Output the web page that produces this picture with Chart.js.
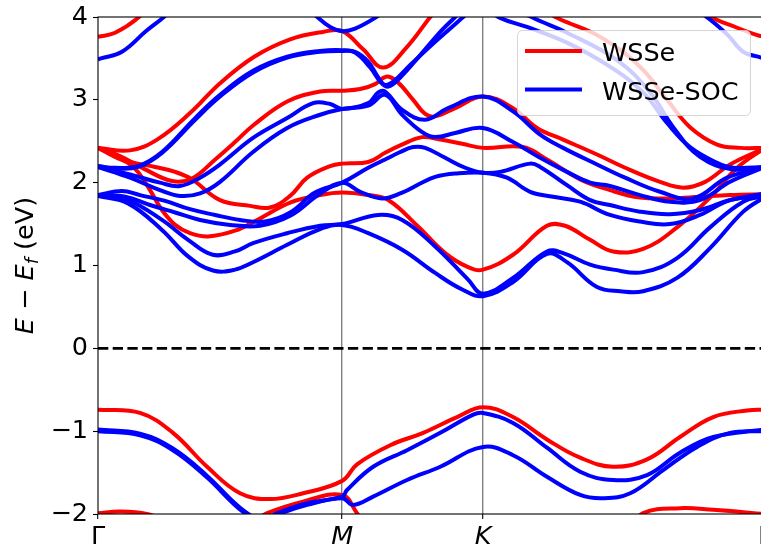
<!DOCTYPE html>
<html>
<head>
<meta charset="utf-8">
<script src="https://cdn.jsdelivr.net/npm/chart.js@4/dist/chart.umd.min.js"></script>
<style>
html, body { margin: 0; padding: 0; background: #fff; overflow: hidden; }
#wrap { width: 766px; height: 546px; position: relative; }
</style>
</head>
<body>
<div id="wrap"><canvas id="bands"></canvas></div>
<script>
// k-path: G-M = 1, M-K = 1/sqrt(3), K-G = 2/sqrt(3)
const kTicks = [0, 1, 1.5774, 2.7321];
const kLabels = ['\u0393', 'M', 'K', '\u0393'];
const energyTicks = [-2, -1, 0, 1, 2, 3, 4];
const seriesNames = ['WSSe', 'WSSe-SOC'];

// WSSe (no SOC) bands, [k, E - Ef in eV]
const wsseV1 = [[0,-0.74],[0.172,-0.78],[0.307,-1.02],[0.447,-1.43],[0.582,-1.75],[0.705,-1.82],[0.84,-1.75],[1.0,-1.6],[1.061,-1.4],[1.197,-1.17],[1.332,-1.02],[1.471,-0.83],[1.577,-0.71],[1.7,-0.83],[1.839,-1.1],[1.975,-1.32],[2.11,-1.43],[2.249,-1.34],[2.384,-1.07],[2.52,-0.83],[2.659,-0.75],[2.732,-0.74]];
const wsseV2 = [[0,-1.99],[0.09,-1.97],[0.2,-2.0],[0.32,-2.12],[0.5,-2.25],[0.62,-2.12],[0.693,-1.99],[0.84,-1.85],[1.0,-1.77],[1.061,-1.99],[1.123,-2.25],[1.35,-2.5],[1.9,-2.5],[2.139,-2.25],[2.233,-1.99],[2.384,-1.93],[2.52,-1.95],[2.732,-2.0]];
const wsseTopG = [[0,3.76],[0.07,3.81],[0.168,4.0],[0.3,4.4],[2.35,4.4],[2.495,4.03],[2.618,3.87],[2.7,3.78],[2.732,3.76]];
const wsseTop = [[0,2.42],[0.131,2.39],[0.242,2.52],[0.377,2.84],[0.5,3.2],[0.64,3.52],[0.787,3.73],[0.922,3.82],[1.0,3.83],[1.086,3.61],[1.168,3.39],[1.266,3.64],[1.361,4.0],[1.422,4.21]];
const wsseA = [[0,2.42],[0.07,2.31],[0.123,2.24],[0.164,2.13],[0.213,1.91],[0.262,1.67],[0.316,1.49],[0.377,1.39],[0.451,1.35],[0.561,1.42],[0.652,1.55],[0.787,1.76],[0.91,1.85],[1.0,1.88],[1.107,1.85],[1.189,1.79],[1.311,1.47],[1.422,1.15],[1.516,0.98],[1.577,0.95],[1.7,1.13],[1.839,1.48],[1.913,1.48],[2.016,1.31],[2.11,1.17],[2.233,1.2],[2.372,1.46],[2.507,1.82],[2.618,2.18],[2.732,2.42]];
const wsseB = [[0,2.42],[0.06,2.36],[0.123,2.26],[0.234,2.19],[0.316,2.13],[0.385,2.04],[0.5,1.79],[0.623,1.72],[0.705,1.7],[0.787,1.84],[0.857,2.06],[0.951,2.2],[1.0,2.23],[1.107,2.25],[1.176,2.36],[1.238,2.45],[1.328,2.55],[1.402,2.52],[1.492,2.47],[1.577,2.42],[1.741,2.43],[1.839,2.28],[1.975,2.04],[2.097,1.91],[2.22,1.82],[2.343,1.81],[2.466,1.83],[2.589,1.85],[2.732,1.86]];
const wsseC = [[0,2.42],[0.09,2.32],[0.193,2.16],[0.303,2.02],[0.385,2.05],[0.48,2.28],[0.561,2.49],[0.635,2.69],[0.775,2.98],[0.91,3.1],[1.0,3.11],[1.074,3.13],[1.135,3.19],[1.18,3.28],[1.225,3.22],[1.291,3.0],[1.34,2.83],[1.381,2.8],[1.463,2.9],[1.577,3.04],[1.7,2.9],[1.798,2.66],[1.905,2.52],[2.044,2.34],[2.159,2.18],[2.302,2.01],[2.397,1.94],[2.487,2.01],[2.589,2.22],[2.732,2.42]];
const wsseUp = [[1.75,4.3],[1.831,4.09],[1.88,3.99],[2.057,3.76],[2.22,3.4],[2.331,3.0],[2.425,2.67],[2.536,2.46],[2.63,2.42],[2.732,2.42]];

// WSSe with SOC
const socV1a = [[0,-0.98],[0.172,-1.03],[0.307,-1.21],[0.447,-1.54],[0.553,-1.85],[0.611,-1.99],[0.672,-2.08],[0.734,-1.99],[0.857,-1.87],[1.0,-1.79],[1.02,-1.71],[1.127,-1.43],[1.266,-1.23],[1.402,-1.02],[1.537,-0.8],[1.577,-0.78],[1.7,-0.9],[1.839,-1.2],[1.975,-1.49],[2.11,-1.59],[2.249,-1.53],[2.384,-1.26],[2.52,-1.07],[2.732,-0.98]];
const socV1b = [[0,-1.0],[0.172,-1.05],[0.307,-1.23],[0.447,-1.56],[0.553,-1.87],[0.611,-2.01],[0.672,-2.1],[0.734,-2.01],[0.857,-1.89],[1.0,-1.81],[1.045,-1.89],[1.127,-1.79],[1.266,-1.59],[1.402,-1.43],[1.577,-1.19],[1.7,-1.29],[1.839,-1.55],[1.975,-1.77],[2.069,-1.81],[2.18,-1.75],[2.315,-1.47],[2.454,-1.19],[2.589,-1.02],[2.732,-1.0]];
const socTopG = [[0,3.49],[0.012,3.5],[0.098,3.58],[0.197,3.83],[0.27,4.0],[0.4,4.35],[2.3,4.35],[2.479,4.03],[2.577,3.79],[2.643,3.58],[2.716,3.51],[2.732,3.49]];
const socTopM = [[0.8,4.4],[0.869,4.09],[0.898,4.0],[0.951,3.88],[1.0,3.83],[1.053,3.86],[1.135,3.99],[1.176,4.09],[1.25,4.4]];
const socT1 = [[0,2.19],[0.07,2.17],[0.164,2.19],[0.262,2.36],[0.398,2.76],[0.5,3.04],[0.635,3.33],[0.775,3.51],[0.91,3.58],[1.0,3.59],[1.053,3.58],[1.107,3.46],[1.148,3.27],[1.176,3.18],[1.217,3.24],[1.279,3.42],[1.381,3.7],[1.492,3.99],[1.525,4.09],[1.56,4.3]];
const socT2 = [[0,2.2],[0.07,2.18],[0.164,2.2],[0.262,2.37],[0.398,2.78],[0.5,3.06],[0.635,3.35],[0.775,3.52],[0.91,3.59],[1.0,3.6],[1.053,3.57],[1.115,3.39],[1.156,3.22],[1.189,3.16],[1.238,3.27],[1.32,3.54],[1.402,3.82],[1.463,4.0],[1.492,4.09],[1.52,4.3]];
const socM1 = [[0,2.19],[0.131,2.1],[0.254,2.0],[0.336,1.96],[0.418,2.06],[0.5,2.22],[0.635,2.54],[0.775,2.78],[0.881,2.96],[0.951,2.95],[1.0,2.89],[1.107,2.96],[1.148,3.09],[1.176,3.1],[1.246,2.88],[1.34,2.76],[1.434,2.9],[1.577,3.04],[1.7,2.86],[1.811,2.58],[1.905,2.42],[2.044,2.22],[2.159,2.06],[2.302,1.89],[2.438,1.81],[2.577,2.06],[2.732,2.19]];
const socM2 = [[0,2.19],[0.131,2.06],[0.254,1.91],[0.336,1.84],[0.418,1.87],[0.5,2.01],[0.635,2.37],[0.775,2.66],[0.91,2.82],[1.0,2.89],[1.107,2.93],[1.176,3.06],[1.246,2.82],[1.328,2.61],[1.381,2.55],[1.463,2.6],[1.577,2.66],[1.7,2.49],[1.811,2.3],[1.921,2.13],[2.016,2.0],[2.097,1.96],[2.22,1.85],[2.343,1.77],[2.466,1.79],[2.589,2.01],[2.732,2.19]];
const socG1 = [[0,1.85],[0.098,1.9],[0.172,1.85],[0.275,1.78],[0.377,1.68],[0.48,1.61],[0.582,1.55],[0.684,1.53],[0.787,1.64],[0.889,1.88],[1.0,2.0],[1.107,2.18],[1.176,2.28],[1.238,2.37],[1.291,2.43],[1.34,2.42],[1.422,2.3],[1.504,2.18],[1.577,2.12],[1.647,2.13],[1.77,2.23],[1.811,2.19],[1.921,1.97],[2.016,1.79],[2.097,1.73],[2.22,1.65],[2.343,1.62],[2.466,1.67],[2.589,1.79],[2.732,1.87]];
const socG2 = [[0,1.85],[0.111,1.83],[0.213,1.73],[0.316,1.64],[0.418,1.55],[0.541,1.49],[0.664,1.48],[0.787,1.6],[0.902,1.85],[1.0,2.0],[1.074,1.89],[1.164,1.81],[1.246,1.88],[1.32,1.99],[1.381,2.07],[1.463,2.11],[1.577,2.12],[1.675,2.06],[1.77,1.89],[1.864,1.83],[1.975,1.77],[2.097,1.61],[2.22,1.53],[2.343,1.5],[2.466,1.61],[2.589,1.79],[2.732,1.84]];
const socL1 = [[0,1.85],[0.123,1.79],[0.262,1.55],[0.369,1.31],[0.47,1.13],[0.561,1.17],[0.635,1.27],[0.775,1.39],[0.91,1.48],[1.0,1.5],[1.148,1.61],[1.246,1.55],[1.381,1.23],[1.516,0.83],[1.577,0.66],[1.7,0.85],[1.839,1.17],[1.905,1.15],[2.016,1.01],[2.11,0.95],[2.233,0.92],[2.372,1.09],[2.507,1.46],[2.643,1.77],[2.732,1.84]];
const socL2 = [[0,1.84],[0.123,1.75],[0.262,1.43],[0.369,1.11],[0.471,0.94],[0.561,0.95],[0.635,1.04],[0.775,1.25],[0.91,1.44],[1.0,1.49],[1.107,1.39],[1.246,1.19],[1.381,0.91],[1.492,0.71],[1.577,0.63],[1.7,0.8],[1.839,1.14],[1.921,1.04],[2.044,0.74],[2.139,0.69],[2.233,0.69],[2.372,0.85],[2.507,1.21],[2.643,1.65],[2.732,1.83]];
const socF1 = [[1.58,4.3],[1.606,4.09],[1.647,3.99],[1.757,3.88],[1.921,3.69],[2.097,3.4],[2.233,3.09],[2.331,2.72],[2.425,2.43],[2.536,2.24],[2.602,2.18],[2.732,2.19]];
const socF2 = [[1.7,4.3],[1.729,4.09],[1.782,3.99],[1.921,3.81],[2.126,3.48],[2.261,3.09],[2.356,2.67],[2.466,2.31],[2.602,2.16],[2.732,2.19]];

const wsseBands = [wsseV1, wsseV2, wsseTopG, wsseTop, wsseA, wsseB, wsseC, wsseUp];
const socBands = [socV1a, socV1b, socTopG, socTopM, socT1, socT2, socM1, socM2, socG1, socG2, socL1, socL2, socF1, socF2];

const RED = '#ff0000';
const BLUE = '#0000ff';
const FONT = 'DejaVu Sans';
const FS = 25.5;

function bandSet(pts, color, order) {
    return {
        data: pts.map(p => ({ x: p[0], y: p[1] })),
        borderColor: color,
        borderWidth: 4,
        pointRadius: 0,
        fill: false,
        tension: 0.4,
        order: order
    };
}

const datasets = [];
wsseBands.forEach(b => datasets.push(bandSet(b, RED, 2)));
socBands.forEach(b => datasets.push(bandSet(b, BLUE, 1)));
// Fermi level
datasets.push({
    data: [{ x: kTicks[0], y: 0 }, { x: kTicks[3], y: 0 }],
    borderColor: '#000',
    borderWidth: 2.8,
    borderDash: [10.3, 4.4],
    pointRadius: 0,
    order: 0
});

// frame, axis title and legend, drawn by hand to get the matplotlib look
const decorPlugin = {
    id: 'decor',
    afterDatasetsDraw(chart) {
        const { ctx, chartArea: a } = chart;
        ctx.save();
        ctx.strokeStyle = '#000';
        ctx.lineWidth = 1.1;
        ctx.strokeRect(a.left, a.top, a.right - a.left, a.bottom - a.top);
        ctx.restore();
    },
    afterDraw(chart) {
        const { ctx, chartArea: a } = chart;

        // y axis title: E - E_f (eV)
        ctx.save();
        ctx.translate(33, (a.top + a.bottom) / 2);
        ctx.rotate(-Math.PI / 2);
        ctx.fillStyle = '#000';
        ctx.textBaseline = 'alphabetic';
        const parts = [
            { t: 'E', f: `italic ${FS}px "${FONT}"`, dy: 0 },
            { t: ' \u2212 ', f: `${FS}px "${FONT}"`, dy: 0 },
            { t: 'E', f: `italic ${FS}px "${FONT}"`, dy: 0 },
            { t: 'f', f: `italic 18px "${FONT}"`, dy: 5 },
            { t: ' (eV)', f: `${FS}px "${FONT}"`, dy: 0 }
        ];
        let total = 0;
        parts.forEach(p => { ctx.font = p.f; p.w = ctx.measureText(p.t).width; total += p.w; });
        let x = -total / 2;
        parts.forEach(p => { ctx.font = p.f; ctx.fillText(p.t, x, p.dy); x += p.w; });
        ctx.restore();

        // legend
        ctx.save();
        ctx.beginPath();
        ctx.roundRect(517.5, 30.5, 233, 85, 5);
        ctx.fillStyle = 'rgba(255,255,255,0.8)';
        ctx.fill();
        ctx.strokeStyle = 'rgba(204,204,204,0.8)';
        ctx.lineWidth = 1;
        ctx.stroke();
        const rows = [{ c: RED, y: 51 }, { c: BLUE, y: 89.5 }];
        rows.forEach((r, i) => {
            ctx.beginPath();
            ctx.moveTo(525, r.y);
            ctx.lineTo(582, r.y);
            ctx.strokeStyle = r.c;
            ctx.lineWidth = 4;
            ctx.stroke();
            ctx.fillStyle = '#000';
            ctx.font = `${FS}px "${FONT}"`;
            ctx.textBaseline = 'alphabetic';
            ctx.fillText(seriesNames[i], 602, r.y + 10);
        });
        ctx.restore();
    }
};

new Chart(document.getElementById('bands'), {
    type: 'line',
    data: { datasets: datasets },
    options: {
        responsive: true,
        maintainAspectRatio: false,
        animation: false,
        events: [],
        layout: { padding: { top: 17, right: 1, left: 0, bottom: 0 } },
        plugins: { legend: { display: false }, tooltip: { enabled: false } },
        scales: {
            x: {
                type: 'linear',
                min: kTicks[0],
                max: kTicks[3],
                afterBuildTicks(s) { s.ticks = kTicks.map(v => ({ value: v })); },
                afterFit(s) { s.height = 32; s.paddingLeft = 0; s.paddingRight = 0; },
                border: { display: false },
                grid: {
                    drawOnChartArea: true,
                    color: c => (c.tick && (c.tick.value === kTicks[1] || c.tick.value === kTicks[2])) ? '#808080' : 'rgba(0,0,0,0)',
                    lineWidth: 1.4,
                    tickColor: '#000',
                    tickWidth: 1.1,
                    tickLength: 5
                },
                ticks: {
                    autoSkip: false,
                    maxRotation: 0,
                    minRotation: 0,
                    padding: 3,
                    color: '#000',
                    font: c => ({ family: FONT, size: FS, style: (c.index === 1 || c.index === 2) ? 'italic' : 'normal' }),
                    callback: (v, i) => kLabels[i]
                }
            },
            y: {
                min: energyTicks[0],
                max: energyTicks[energyTicks.length - 1],
                afterBuildTicks(s) { s.ticks = energyTicks.map(v => ({ value: v })); },
                afterFit(s) { s.width = 98; s.paddingTop = 0; s.paddingBottom = 0; },
                border: { display: false },
                grid: {
                    drawOnChartArea: false,
                    tickColor: '#000',
                    tickWidth: 1.1,
                    tickLength: 5
                },
                ticks: {
                    padding: 5,
                    color: '#000',
                    font: { family: FONT, size: FS },
                    callback: v => (v < 0 ? '\u2212' + Math.abs(v) : String(v))
                }
            }
        }
    },
    plugins: [decorPlugin]
});
</script>
</body>
</html>
